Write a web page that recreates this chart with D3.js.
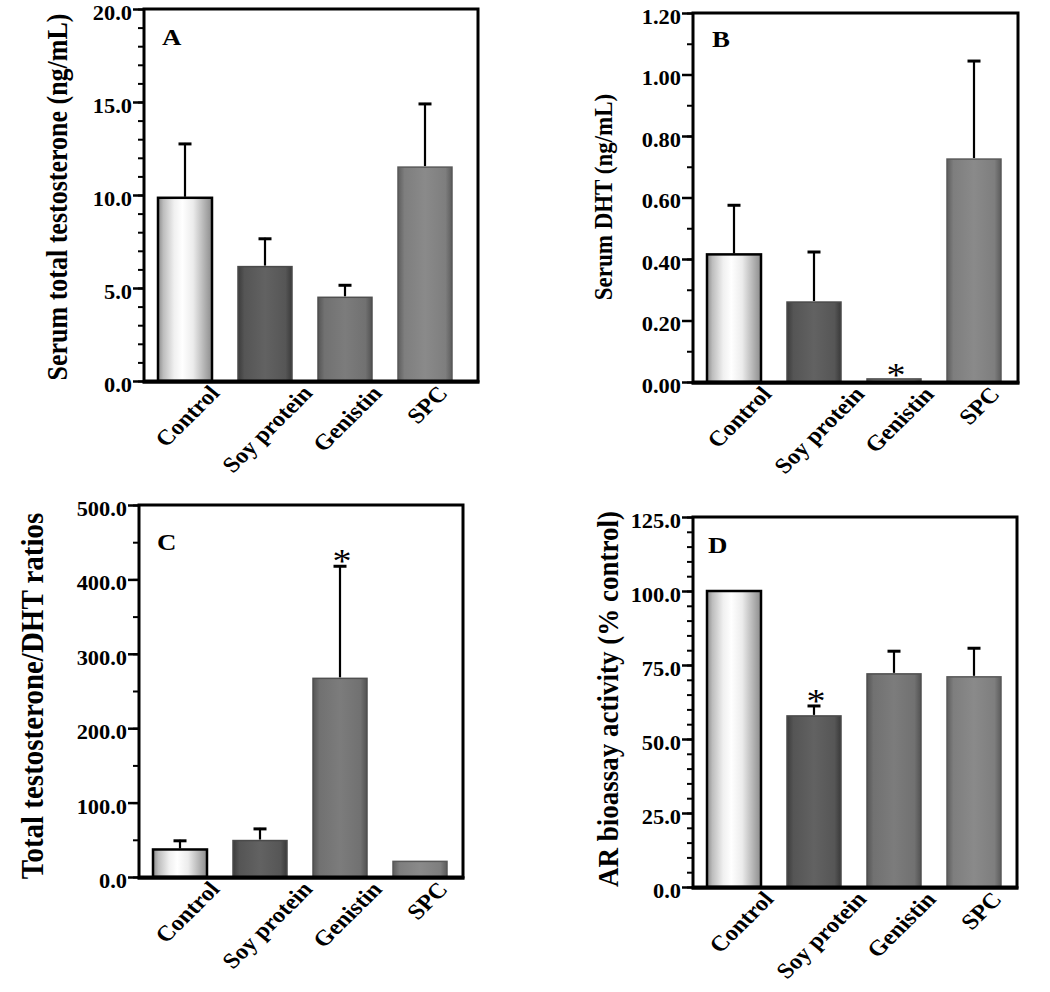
<!DOCTYPE html>
<html>
<head>
<meta charset="utf-8">
<script src="https://cdn.jsdelivr.net/npm/d3@7"></script>
<style>
  html, body { margin: 0; padding: 0; background: #fff; }
  svg { display: block; }
  text { font-family: "Liberation Serif", "Times New Roman", serif; font-weight: bold; fill: #000; }
</style>
</head>
<body>
<svg id="chart" width="1050" height="992"></svg>
<script>
// ---------------- data ----------------
const categories = ["Control", "Soy protein", "Genistin", "SPC"];

const testosteroneMean = [9.85, 6.15, 4.5, 11.5];
const testosteroneErr  = [2.95, 1.55, 0.7, 3.45];
const testosteroneSig  = [false, false, false, false];

const dhtMean = [0.415, 0.26, 0.01, 0.725];
const dhtErr  = [0.163, 0.166, 0, 0.322];
const dhtSig  = [false, false, true, false];

const ratioMean = [37, 49, 267, 21];
const ratioErr  = [13, 17, 152, 0];
const ratioSig  = [false, false, true, false];

const arMean = [100, 57.8, 72, 71];
const arErr  = [0, 3.7, 8, 10];
const arSig  = [false, true, false, false];

const ticksA = [0, 5, 10, 15, 20];
const ticksB = [0, 0.2, 0.4, 0.6, 0.8, 1.0, 1.2];
const ticksC = [0, 100, 200, 300, 400, 500];
const ticksD = [0, 25, 50, 75, 100, 125];

const panelLetters = ["A", "B", "C", "D"];
const yTitles = [
  "Serum total testosterone (ng/mL)",
  "Serum DHT (ng/mL)",
  "Total testosterone/DHT ratios",
  "AR bioassay activity (% control)"
];

// ---------------- layout ----------------
const SX = 1.12; // horizontal glyph stretch seen in the scanned figure
const panels = [
  { mean: testosteroneMean, err: testosteroneErr, sig: testosteroneSig, ticks: ticksA, minor: 1,   fmt: d3.format(".1f"),
    box: { l: 144, r: 478, t: 9,   b: 381 }, titleX: 67,  titleY: 197, titleSize: 26, labDx: 2 },
  { mean: dhtMean, err: dhtErr, sig: dhtSig, ticks: ticksB, minor: 0.1, fmt: d3.format(".2f"),
    box: { l: 693, r: 1018, t: 13, b: 382 }, titleX: 612, titleY: 197, titleSize: 23, labDx: 5 },
  { mean: ratioMean, err: ratioErr, sig: ratioSig, ticks: ticksC, minor: 50, fmt: d3.format(".1f"),
    box: { l: 139, r: 463, t: 505, b: 877 }, titleX: 43,  titleY: 696, titleSize: 29, labDx: 7 },
  { mean: arMean, err: arErr, sig: arSig, ticks: ticksD, minor: 5, fmt: d3.format(".1f"),
    box: { l: 693, r: 1017, t: 517, b: 887 }, titleX: 618, titleY: 699, titleSize: 27, labDx: 7 }
];
const letterPos = [[162, 45], [712, 47], [157, 550], [708, 553]];

const svg = d3.select("#chart");
const defs = svg.append("defs");

// bar gradients per category
const gradStops = [
  [[0, "#8a8a8a"], [0.1, "#bdbdbd"], [0.3, "#f0f0f0"], [0.45, "#ffffff"], [0.65, "#ececec"], [0.85, "#b5b5b5"], [1, "#8c8c8c"]],
  [[0, "#3c3c3c"], [0.12, "#555555"], [0.5, "#626262"], [0.88, "#565656"], [1, "#3a3a3a"]],
  [[0, "#555555"], [0.12, "#717171"], [0.5, "#7c7c7c"], [0.88, "#717171"], [1, "#525252"]],
  [[0, "#5e5e5e"], [0.12, "#7e7e7e"], [0.5, "#8a8a8a"], [0.88, "#7e7e7e"], [1, "#5c5c5c"]]
];
gradStops.forEach((stops, i) => {
  const g = defs.append("linearGradient").attr("id", "g" + i)
    .attr("x1", "0").attr("x2", "1").attr("y1", "0").attr("y2", "0");
  stops.forEach(s => g.append("stop").attr("offset", s[0]).attr("stop-color", s[1]));
});
const barStroke = ["#000", "#4a4a4a", "#4f4f4f", "#595959"];
const barStrokeW = [2.5, 1.5, 1.5, 1.5];

panels.forEach((p, pi) => {
  const { l, r, t, b } = p.box;
  const g = svg.append("g");
  const y = d3.scaleLinear().domain([p.ticks[0], p.ticks[p.ticks.length - 1]]).range([b, t]);
  const x = d3.scaleBand().domain(categories)
    .range([l + 14, l + 14 + 3 * 80 + 54]).paddingInner(0.325).paddingOuter(0);

  // bars
  g.selectAll("rect.bar").data(categories).join("rect")
    .attr("class", "bar")
    .attr("x", d => x(d))
    .attr("width", x.bandwidth())
    .attr("y", (d, i) => y(p.mean[i]))
    .attr("height", (d, i) => b - y(p.mean[i]))
    .attr("fill", (d, i) => `url(#g${i})`)
    .attr("stroke", (d, i) => barStroke[i])
    .attr("stroke-width", (d, i) => barStrokeW[i]);

  // error bars (upper only)
  categories.forEach((c, i) => {
    if (p.err[i] <= 0) return;
    const cx = x(c) + x.bandwidth() / 2;
    const y0 = y(p.mean[i]) - 1;
    const y1 = y(p.mean[i] + p.err[i]);
    g.append("line").attr("x1", cx).attr("x2", cx).attr("y1", y0).attr("y2", y1)
      .attr("stroke", "#000").attr("stroke-width", 2.2);
    g.append("line").attr("x1", cx - 6.5).attr("x2", cx + 6.5).attr("y1", y1 + 1).attr("y2", y1 + 1)
      .attr("stroke", "#000").attr("stroke-width", 3);
  });

  // significance asterisks
  categories.forEach((c, i) => {
    if (!p.sig[i]) return;
    const cx = x(c) + x.bandwidth() / 2 + 2;
    const top = y(p.mean[i] + p.err[i]);
    g.append("text").text("*")
      .attr("text-anchor", "middle")
      .attr("transform", `translate(${cx},${top + 7}) scale(${SX},1)`)
      .style("font-weight", "normal").style("font-size", "34px");
  });

  // frame
  g.append("rect").attr("x", l).attr("y", t).attr("width", r - l).attr("height", b - t)
    .attr("fill", "none").attr("stroke", "#000").attr("stroke-width", 3);
  g.append("line").attr("x1", l - 1.5).attr("x2", r + 1.5).attr("y1", b + 1).attr("y2", b + 1)
    .attr("stroke", "#000").attr("stroke-width", 3.5);

  // minor ticks
  const t0 = p.ticks[0], t1 = p.ticks[p.ticks.length - 1];
  const minorVals = d3.range(Math.round((t1 - t0) / p.minor) + 1).map(k => t0 + k * p.minor);
  const minorAxis = g.append("g").attr("transform", `translate(${l},0)`)
    .call(d3.axisLeft(y).tickValues(minorVals).tickSize(6).tickFormat(""));
  minorAxis.select(".domain").remove();
  minorAxis.selectAll("line").attr("stroke-width", 2);

  // major ticks
  const majorAxis = g.append("g").attr("transform", `translate(${l},0)`)
    .call(d3.axisLeft(y).tickValues(p.ticks).tickSize(11).tickFormat(p.fmt));
  majorAxis.select(".domain").remove();
  majorAxis.selectAll("line").attr("stroke-width", 2.5);
  majorAxis.selectAll("text")
    .attr("x", null).attr("dy", "0.52em")
    .attr("transform", `translate(-12,0) scale(${SX},1)`)
    .style("font-family", '"Liberation Serif", "Times New Roman", serif')
    .style("font-weight", "bold").style("font-size", "20px").attr("fill", "#000");

  // category labels
  categories.forEach((c, i) => {
    const cx = x(c) + x.bandwidth() / 2;
    const tx = g.append("text").text(c).attr("text-anchor", "middle").attr("dy", "0.35em")
      .style("font-size", "22px");
    const len = tx.node().getComputedTextLength();
    tx.attr("transform", `translate(${cx + p.labDx},${b + 8 + len * 0.37}) scale(${SX},1) rotate(-48)`);
  });

  // panel letter
  g.append("text").text(panelLetters[pi])
    .attr("transform", `translate(${letterPos[pi][0]},${letterPos[pi][1]}) scale(${SX},1)`)
    .style("font-size", "24px");

  // y title
  g.append("text").text(yTitles[pi]).attr("text-anchor", "middle")
    .attr("transform", `translate(${p.titleX},${p.titleY}) scale(${SX},1) rotate(-90)`)
    .style("font-size", p.titleSize + "px");
});
</script>
</body>
</html>
